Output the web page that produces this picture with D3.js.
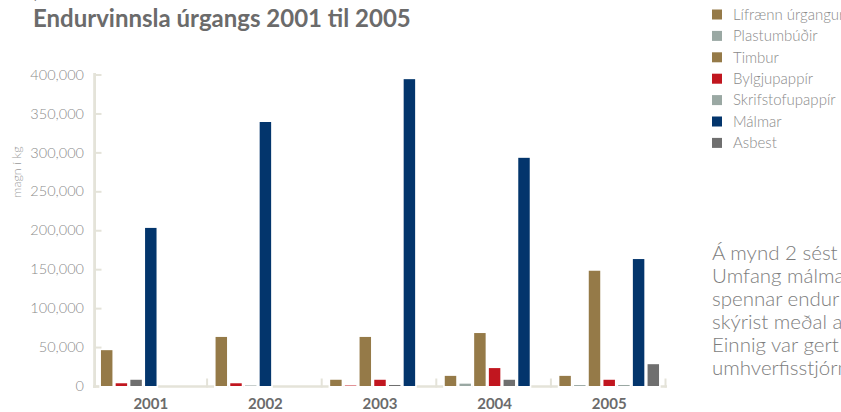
<!DOCTYPE html>
<html>
<head>
<meta charset="utf-8">
<script src="https://cdn.jsdelivr.net/npm/d3@7"></script>
<style>
  html, body { margin: 0; padding: 0; background: #fff; overflow: hidden; }
  svg { display: block; }
</style>
</head>
<body>
<svg id="chart" width="841" height="412"></svg>
<script>
// ---------- DATA ----------
const years = ["2001", "2002", "2003", "2004", "2005"];
const seriesNames = ["Lífrænn úrgangur", "Plastumbúðir", "Timbur", "Bylgjupappír", "Skrifstofupappír", "Málmar", "Asbest"];
const seriesColors = ["#957a48", "#9aa8a3", "#957a48", "#c1161f", "#9aa8a3", "#03356c", "#6f6f6f"];
const yTicks = [0, 50000, 100000, 150000, 200000, 250000, 300000, 350000, 400000];

// bars of each year, in the order they stand in the group: [series, value in kg]
const bars2001 = [["Timbur", 46000], ["Bylgjupappír", 3500], ["Asbest", 8000], ["Málmar", 203000]];
const bars2002 = [["Timbur", 63000], ["Bylgjupappír", 3500], ["Skrifstofupappír", 700], ["Málmar", 339000]];
const bars2003 = [["Lífrænn úrgangur", 8000], ["Bylgjupappír", 600], ["Timbur", 63000], ["Bylgjupappír", 8000], ["Asbest", 1300], ["Málmar", 394000]];
const bars2004 = [["Lífrænn úrgangur", 13000], ["Plastumbúðir", 3000], ["Timbur", 68000], ["Bylgjupappír", 23000], ["Asbest", 8000], ["Málmar", 293000]];
const bars2005 = [["Lífrænn úrgangur", 13000], ["Plastumbúðir", 1200], ["Timbur", 148000], ["Bylgjupappír", 8000], ["Skrifstofupappír", 1300], ["Málmar", 163000], ["Asbest", 28000]];
const barsByYear = [bars2001, bars2002, bars2003, bars2004, bars2005];

const titleText = "Endurvinnsla úrgangs 2001 til 2005";
const yAxisTitle = "magn í kg";
const sideText = ["Á mynd 2 sést", "Umfang málma", "spennar endur", "skýrist meðal a", "Einnig var gert", "umhverfisstjórn"];

// ---------- DRAW ----------
const svg = d3.select("#chart");
const FONT = "Lato, 'Open Sans', sans-serif";
const wallColor = "#e4e3d9";

const x = d3.scaleBand().domain(years).range([93.5, 666.5]).padding(0);
const slot = d3.scaleBand().domain(d3.range(7)).range([0, x.bandwidth()])
  .paddingInner(0.22).paddingOuter(0.508);
const y = d3.scaleLinear().domain([0, 400000]).range([386, 74.5]);

const colorOf = d3.scaleOrdinal().domain(seriesNames).range(seriesColors);

// top cut-off caption
svg.append("text").attr("x", 22).attr("y", -1)
  .attr("font-family", FONT).attr("font-size", 12).attr("fill", "#777")
  .text("Mynd 2");

// title
svg.append("text").attr("x", 33).attr("y", 27)
  .attr("font-family", FONT).attr("font-weight", 700).attr("font-size", 24)
  .attr("fill", "#6b6b6b").text(titleText);

// floor line
svg.append("line").attr("x1", 93).attr("x2", 667)
  .attr("y1", 386.6).attr("y2", 386.6)
  .attr("stroke", wallColor).attr("stroke-width", 2.5);

// category boundary ticks
svg.append("g").selectAll("line").data(years).join("line")
  .attr("x1", d => x(d) + x.bandwidth() - 1).attr("x2", d => x(d) + x.bandwidth() - 1)
  .attr("y1", 378.5).attr("y2", 387.5)
  .attr("stroke", wallColor).attr("stroke-width", 2);

// wall
svg.append("line").attr("x1", 94.6).attr("x2", 94.6).attr("y1", 73).attr("y2", 388)
  .attr("stroke", wallColor).attr("stroke-width", 2.8);

const wallTicks = svg.append("g").attr("transform", "translate(95.5,0)")
  .call(d3.axisRight(y).tickValues(yTicks).tickSize(6).tickFormat(""));
wallTicks.select(".domain").remove();
wallTicks.selectAll("line").attr("stroke", wallColor).attr("stroke-width", 2);

// y tick labels
const yAxis = svg.append("g").attr("transform", "translate(84,0)")
  .call(d3.axisLeft(y).tickValues(yTicks).tickSize(0).tickPadding(0).tickFormat(d3.format(",")));
yAxis.select(".domain").remove();
yAxis.selectAll("text").attr("font-family", FONT).attr("font-weight", 300)
  .attr("font-size", 14.5).attr("fill", "#8a8a8a");

// y axis title
svg.append("text").attr("transform", "translate(21,172) rotate(-90)")
  .attr("text-anchor", "middle").attr("font-family", FONT).attr("font-weight", 300)
  .attr("font-size", 12.5).attr("fill", "#9a9a9a").text(yAxisTitle);

// bars
const groups = svg.append("g").selectAll("g").data(years).join("g")
  .attr("transform", d => `translate(${x(d)},0)`);

groups.selectAll("rect.mask").data((d, i) => barsByYear[i]).join("rect")
  .attr("class", "mask")
  .attr("x", (d, i) => slot(i) - 1.6).attr("width", slot.bandwidth() + 3.2)
  .attr("y", 382).attr("height", 8).attr("fill", "#fff");

groups.selectAll("rect.bar").data((d, i) => barsByYear[i]).join("rect")
  .attr("class", "bar")
  .attr("x", (d, i) => slot(i)).attr("width", slot.bandwidth())
  .attr("y", d => y(d[1])).attr("height", d => y(0) - y(d[1]))
  .attr("fill", d => colorOf(d[0]));

// year labels
const xAxis = svg.append("g").attr("transform", "translate(0,398)")
  .call(d3.axisBottom(x).tickSize(0).tickPadding(0));
xAxis.select(".domain").remove();
xAxis.selectAll("text").attr("font-family", FONT).attr("font-weight", 700)
  .attr("font-size", 15).attr("fill", "#6b6b6b").attr("dy", "0.71em");

// legend
const legend = svg.append("g").selectAll("g").data(seriesNames).join("g")
  .attr("transform", (d, i) => `translate(712,${14.5 + i * 21.4})`);
legend.append("rect").attr("x", 0).attr("y", -5).attr("width", 10).attr("height", 10)
  .attr("fill", (d, i) => seriesColors[i]);
legend.append("text").attr("x", 21).attr("y", 0).attr("dy", "0.35em")
  .attr("font-family", FONT).attr("font-weight", 300).attr("font-size", 15)
  .attr("fill", "#8a8a8a").text(d => d);

// side paragraph
svg.append("g").selectAll("text").data(sideText).join("text")
  .attr("x", 712).attr("y", (d, i) => 260 + i * 23)
  .attr("font-family", FONT).attr("font-weight", 300).attr("font-size", 20.5)
  .attr("fill", "#7d7d7d").text(d => d);
</script>
</body>
</html>
